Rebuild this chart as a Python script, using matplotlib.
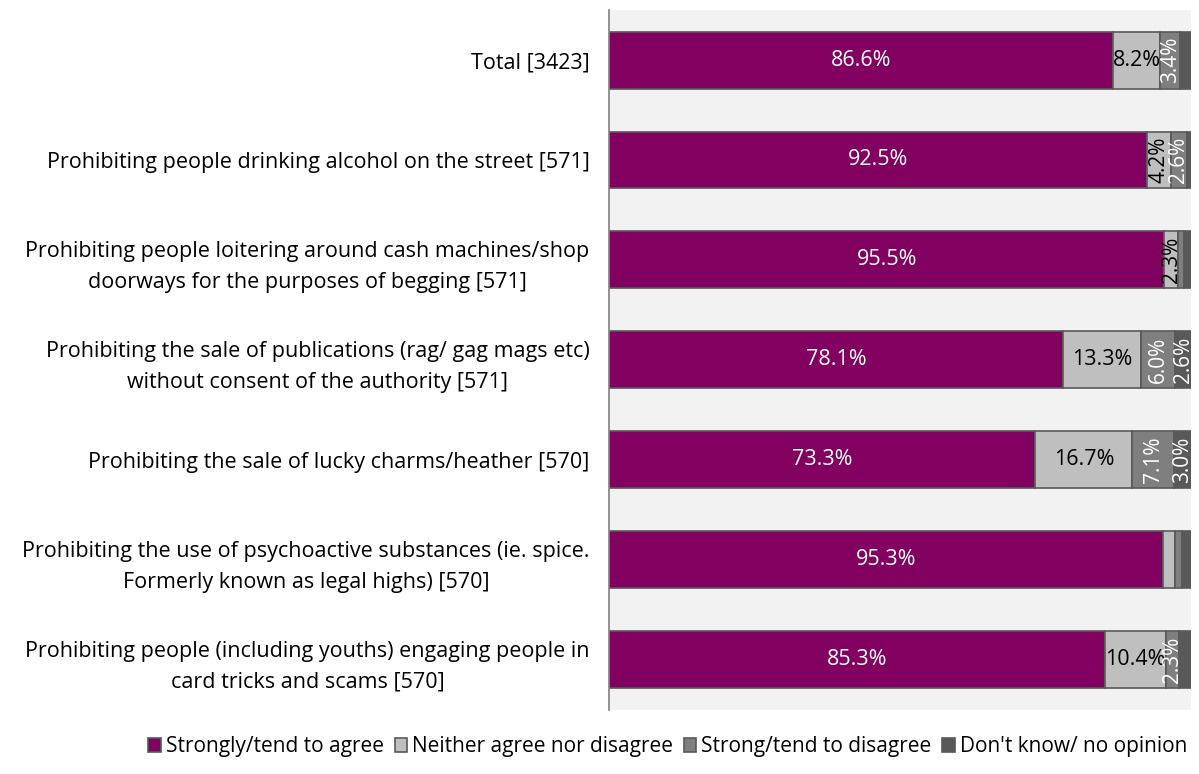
import matplotlib.pyplot as plt
import numpy as np

plt.rcParams['font.family'] = ['Open Sans', 'DejaVu Sans']

categories = [
    "Total [3423]",
    "Prohibiting people drinking alcohol on the street [571]",
    "Prohibiting people loitering around cash machines/shop\ndoorways for the purposes of begging [571]",
    "Prohibiting the sale of publications (rag/ gag mags etc)\nwithout consent of the authority [571]",
    "Prohibiting the sale of lucky charms/heather [570]",
    "Prohibiting the use of psychoactive substances (ie. spice.\nFormerly known as legal highs) [570]",
    "Prohibiting people (including youths) engaging people in\ncard tricks and scams [570]",
]
series_names = ["Strongly/tend to agree", "Neither agree nor disagree",
                "Strong/tend to disagree", "Don't know/ no opinion"]
agree = [86.6, 92.5, 95.5, 78.1, 73.3, 95.3, 85.3]
neither = [8.2, 4.2, 2.3, 13.3, 16.7, 2.0, 10.4]
disagree = [3.4, 2.6, 1.0, 6.0, 7.1, 1.3, 2.3]
dont_know = [1.8, 0.7, 1.2, 2.6, 3.0, 1.4, 2.0]

# which labels are shown: None = hidden, 'h' horizontal, 'v' rotated
label_mode = [
    ['h', 'h', 'v', None],
    ['h', 'v', 'v', None],
    ['h', 'v', None, None],
    ['h', 'h', 'v', 'v'],
    ['h', 'h', 'v', 'v'],
    ['h', None, None, None],
    ['h', 'h', 'v', None],
]

COLORS = ['#820060', '#bfbfbf', '#7f7f7f', '#595959']
TEXT_COLORS = ['white', 'black', 'white', 'white']

fig = plt.figure(figsize=(11.99, 7.74), dpi=100)
ax = fig.add_axes([0.508, 0.083, 0.485, 0.904])
ax.set_facecolor('#f2f2f2')

y = np.arange(len(categories))
data = [agree, neither, disagree, dont_know]
left = np.zeros(len(categories))
for i, vals in enumerate(data):
    vals = np.array(vals)
    ax.barh(y, vals, left=left, height=0.57, color=COLORS[i],
            edgecolor='#595959', linewidth=1.2, label=series_names[i])
    for j, v in enumerate(vals):
        mode = label_mode[j][i]
        if mode is None:
            continue
        ax.text(left[j] + v / 2, y[j], f"{v:.1f}%", ha='center', va='center',
                color=TEXT_COLORS[i], fontsize=15.5 if mode == 'h' else 15,
                rotation=90 if mode == 'v' else 0)
    left = left + vals

ax.set_xlim(0, 100)
ax.set_ylim(len(categories) - 0.5, -0.5)
ax.set_yticks(y)
ax.set_yticklabels(categories, fontsize=15.5, ha='right',
                   multialignment='center', linespacing=1.6)
ax.tick_params(axis='y', length=0, pad=14)
ax.set_xticks([])
for s in ['top', 'right', 'bottom']:
    ax.spines[s].set_visible(False)
ax.spines['left'].set_color('#808080')
ax.spines['left'].set_linewidth(1.2)

fig.legend(loc='center', bbox_to_anchor=(0.557, 0.035), ncol=4, frameon=False,
           fontsize=15, handlelength=0.6, handleheight=0.6,
           handletextpad=0.25, columnspacing=0.5)

fig.savefig('out.png', dpi=100)
